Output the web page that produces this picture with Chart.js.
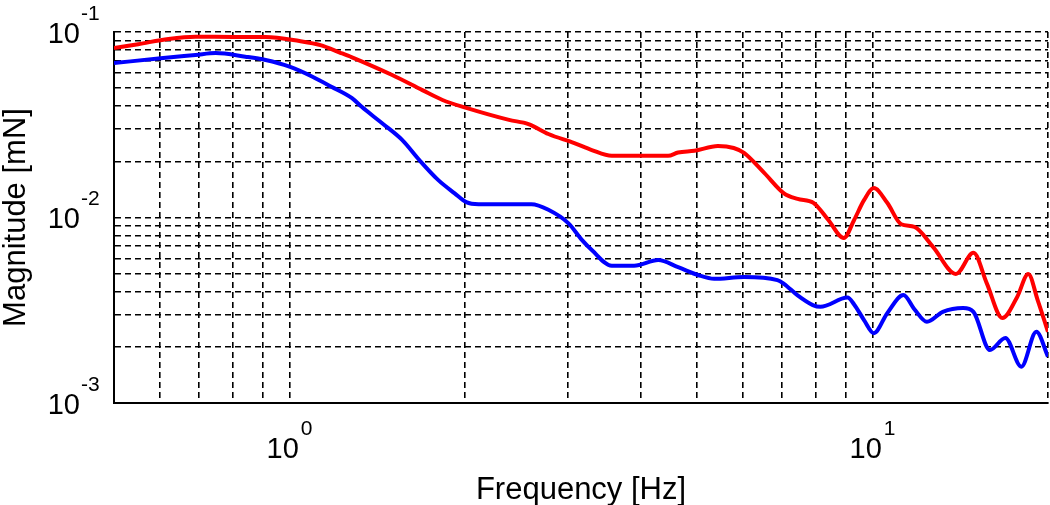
<!DOCTYPE html>
<html>
<head>
<meta charset="utf-8">
<script src="https://cdn.jsdelivr.net/npm/chart.js@4.4.1/dist/chart.umd.min.js"></script>
<style>
  html, body { margin: 0; padding: 0; background: #fff; }
  canvas { display: block; }
</style>
</head>
<body>
<canvas id="myChart" width="1050" height="505"></canvas>
<script>
// frequency [Hz] and magnitude [mN]
const redFreq = [0.5, 0.55, 0.62, 0.69, 0.8, 0.91, 1.04, 1.13, 1.22, 1.28, 1.5, 1.69, 1.83, 2.01, 2.38, 2.57, 2.78, 3.08, 3.3, 3.57, 4.46, 4.64, 4.95, 5.43, 5.78, 6.02, 6.52, 7.05, 7.44, 7.92, 8.4, 8.93, 9.3, 9.67, 10.05, 10.6, 11.2, 11.8, 12.7, 13.9, 14.9, 15.7, 16.7, 17.7, 18.5, 19.2, 20];
const redMag = [0.082, 0.086, 0.0917, 0.0943, 0.094, 0.094, 0.0894, 0.085, 0.0775, 0.073, 0.0586, 0.0486, 0.043, 0.039, 0.0336, 0.0319, 0.0282, 0.0252, 0.0231, 0.0215, 0.0215, 0.0224, 0.0229, 0.0243, 0.0237, 0.0223, 0.0174, 0.0135, 0.0126, 0.012, 0.0097, 0.00776, 0.0097, 0.0124, 0.0144, 0.012, 0.0092, 0.0089, 0.00694, 0.00496, 0.00645, 0.00443, 0.00287, 0.00372, 0.00496, 0.00359, 0.00242];

const blueFreq = [0.5, 0.607, 0.69, 0.747, 0.84, 0.91, 1.0, 1.095, 1.18, 1.28, 1.33, 1.44, 1.56, 1.67, 1.8, 1.92, 2.01, 2.11, 2.6, 2.78, 3.01, 3.17, 3.3, 3.57, 3.9, 4.29, 4.64, 5.02, 5.35, 6.02, 6.87, 7.05, 7.44, 7.9, 8.14, 9.06, 9.3, 9.67, 10.05, 10.6, 11.3, 11.8, 12.4, 13.2, 14.3, 14.9, 15.9, 16.9, 18.0, 19.1, 20];
const blueMag = [0.068, 0.0724, 0.0752, 0.077, 0.0736, 0.0706, 0.065, 0.0574, 0.0507, 0.044, 0.0395, 0.0323, 0.0262, 0.0204, 0.0159, 0.0135, 0.0121, 0.0118, 0.0118, 0.011, 0.0093, 0.0076, 0.00668, 0.0055, 0.0055, 0.0059, 0.0054, 0.0049, 0.00467, 0.00478, 0.0046, 0.00439, 0.0038, 0.00337, 0.0033, 0.0037, 0.0034, 0.0028, 0.00238, 0.00305, 0.00382, 0.0032, 0.00274, 0.0031, 0.00325, 0.0031, 0.00193, 0.00224, 0.00157, 0.00242, 0.00178];

// grid lines (matlab style minor grid)
const xGridValues = [0.5, 0.6, 0.7, 0.8, 0.9, 1, 2, 3, 4, 5, 6, 7, 8, 9, 10, 20];
const yGridValues = [0.001, 0.002, 0.003, 0.004, 0.005, 0.006, 0.007, 0.008, 0.009,
                     0.01, 0.02, 0.03, 0.04, 0.05, 0.06, 0.07, 0.08, 0.09, 0.1];

// labelled ticks: 10^exp
const xTickValues = [1, 10];
const xTickExps = ["0", "1"];
const yTickValues = [0.1, 0.01, 0.001];
const yTickExps = ["-1", "-2", "-3"];

const toPoints = (xs, ys) => xs.map((f, i) => ({ x: f, y: ys[i] }));

const FONT = "'Liberation Sans', Arial, sans-serif";

// draws the 10^n tick labels and the axis titles
const labelPlugin = {
  id: "labelPlugin",
  afterDraw(chart) {
    const { ctx, chartArea, scales } = chart;
    ctx.save();
    ctx.fillStyle = "#000";
    ctx.textBaseline = "alphabetic";

    // x tick labels
    xTickValues.forEach((v, i) => {
      const px = scales.x.getPixelForValue(v);
      ctx.font = "29px " + FONT;
      const wBase = ctx.measureText("10").width;
      ctx.font = "21px " + FONT;
      const wExp = ctx.measureText(xTickExps[i]).width;
      const left = px - (wBase + 2 + wExp) / 2;
      ctx.textAlign = "left";
      ctx.font = "29px " + FONT;
      ctx.fillText("10", left, 458);
      ctx.font = "21px " + FONT;
      ctx.fillText(xTickExps[i], left + wBase + 2, 435);
    });

    // y tick labels
    yTickValues.forEach((v, i) => {
      const py = scales.y.getPixelForValue(v);
      ctx.textAlign = "right";
      ctx.font = "29px " + FONT;
      ctx.fillText("10", 80, py + 10.5);
      ctx.textAlign = "left";
      ctx.font = "21px " + FONT;
      ctx.fillText(yTickExps[i], 81, py - 12.5);
    });

    // axis titles
    ctx.font = "31px " + FONT;
    ctx.textAlign = "center";
    ctx.fillText("Frequency [Hz]", (chartArea.left + chartArea.right) / 2, 499);

    ctx.translate(25, (chartArea.top + chartArea.bottom) / 2);
    ctx.rotate(-Math.PI / 2);
    ctx.fillText("Magnitude [mN]", 0, 0);
    ctx.restore();
  }
};

let ctx = document.getElementById("myChart").getContext("2d");

let myChart = new Chart(ctx, {
  type: "scatter",
  data: {
    datasets: [
      {
        label: "red",
        data: toPoints(redFreq, redMag),
        showLine: true,
        borderColor: "#ff0000",
        borderWidth: 4,
        pointRadius: 0,
        cubicInterpolationMode: "monotone",
      },
      {
        label: "blue",
        data: toPoints(blueFreq, blueMag),
        showLine: true,
        borderColor: "#0000ff",
        borderWidth: 4,
        pointRadius: 0,
        cubicInterpolationMode: "monotone",
      },
    ],
  },
  options: {
    responsive: false,
    animation: false,
    layout: {
      padding: { left: 114, top: 32, right: 2, bottom: 102 },
    },
    plugins: {
      legend: { display: false },
      tooltip: { enabled: false },
    },
    scales: {
      x: {
        type: "logarithmic",
        min: 0.5,
        max: 20,
        afterBuildTicks: (axis) => {
          axis.ticks = xGridValues.map((v) => ({ value: v }));
        },
        ticks: { display: false },
        grid: { color: "#000", lineWidth: 1.6, drawTicks: false },
        border: { display: true, color: "#000", width: 2, dash: [6, 4] },
      },
      y: {
        type: "logarithmic",
        min: 0.001,
        max: 0.1,
        afterBuildTicks: (axis) => {
          axis.ticks = yGridValues.map((v) => ({ value: v }));
        },
        ticks: { display: false },
        grid: { color: "#000", lineWidth: 1.6, drawTicks: false },
        border: { display: true, color: "#000", width: 2, dash: [6, 4] },
      },
    },
  },
  plugins: [labelPlugin],
});
</script>
</body>
</html>
